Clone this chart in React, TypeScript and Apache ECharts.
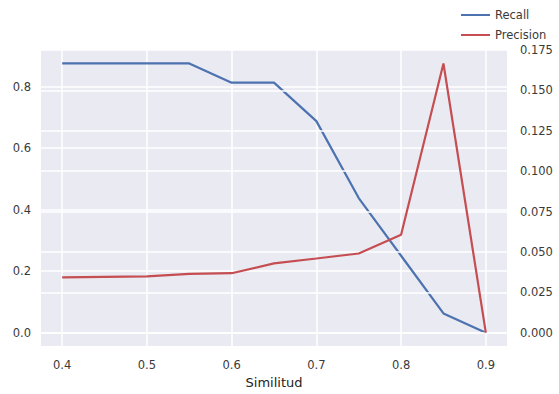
import React, { useEffect, useRef } from "react";
import * as echarts from "echarts";

// Similarity thresholds and the two scores measured at each one
const similitud = [0.4, 0.45, 0.5, 0.55, 0.6, 0.65, 0.7, 0.75, 0.8, 0.85, 0.9];
const recall = [0.875, 0.875, 0.875, 0.875, 0.8125, 0.8125, 0.6875, 0.4375, 0.25, 0.0625, 0];
const precision = [0.0342, 0.0345, 0.0348, 0.0364, 0.0368, 0.0429, 0.0459, 0.049, 0.0606, 0.1667, 0];

// Tick positions for each axis
const xTicks = [0.4, 0.5, 0.6, 0.7, 0.8, 0.9];
const recallTicks = [0, 0.2, 0.4, 0.6, 0.8];
const precisionTicks = [0, 0.025, 0.05, 0.075, 0.1, 0.125, 0.15, 0.175];

const FONT = "DejaVu Sans";
const TEXT = "#3a3a3a";

export default function App() {
  const ref = useRef<HTMLDivElement>(null);

  useEffect(() => {
    if (!ref.current) return;
    const chart = echarts.init(ref.current, undefined, { renderer: "svg" });

    const recallMax = Math.max(...recall);
    const precMax = Math.max(...precision);

    const labelStyle = { color: TEXT, fontFamily: FONT, fontSize: 11.5 };
    const split = { show: true, lineStyle: { color: "#ffffff", width: 1.5 } };

    chart.setOption({
      animation: false,
      textStyle: { fontFamily: FONT },
      grid: {
        left: 41,
        top: 50,
        width: 466,
        height: 303,
        show: true,
        backgroundColor: "#EAEAF2",
        borderWidth: 0,
      },
      legend: {
        orient: "vertical",
        left: 456,
        top: 3,
        padding: 5,
        itemWidth: 29,
        itemHeight: 2,
        itemGap: 6,
        itemTextGap: 12,
        textStyle: { color: TEXT, fontFamily: FONT, fontSize: 11.5, lineHeight: 14 },
        data: [
          { name: "Recall", icon: "rect", itemStyle: { color: "#4C72B0" } },
          { name: "Precision", icon: "rect", itemStyle: { color: "#C44E52" } },
        ],
        itemStyle: { borderWidth: 0 },
      },
      xAxis: {
        type: "value",
        min: 0.375,
        max: 0.925,
        z: 0,
        name: "Similitud",
        nameLocation: "middle",
        nameGap: 29,
        nameTextStyle: { color: "#222", fontFamily: FONT, fontSize: 13 },
        axisLine: { show: false },
        axisTick: { show: false, customValues: xTicks },
        axisLabel: {
          ...labelStyle,
          margin: 13,
          customValues: xTicks,
          formatter: (v: number) => v.toFixed(1),
        },
        splitLine: split,
      },
      yAxis: [
        {
          type: "value",
          position: "left",
          min: -recallMax * 0.05,
          max: recallMax * 1.05,
          z: 0,
          axisLine: { show: false },
          axisTick: { show: false, customValues: recallTicks },
          axisLabel: {
            ...labelStyle,
            margin: 10,
            customValues: recallTicks,
            formatter: (v: number) => v.toFixed(1),
          },
          splitLine: split,
        },
        {
          type: "value",
          position: "right",
          min: -precMax * 0.05,
          max: precMax * 1.05,
          z: 2,
          axisLine: { show: false },
          axisTick: { show: false, customValues: precisionTicks },
          axisLabel: {
            ...labelStyle,
            margin: 13,
            customValues: precisionTicks,
            formatter: (v: number) => v.toFixed(3),
          },
          splitLine: split,
        },
      ],
      series: [
        {
          name: "Recall",
          type: "line",
          yAxisIndex: 0,
          z: 1,
          symbol: "none",
          data: similitud.map((s, i) => [s, recall[i]]),
          lineStyle: { color: "#4C72B0", width: 2.2 },
          itemStyle: { color: "#4C72B0" },
        },
        {
          name: "Precision",
          type: "line",
          yAxisIndex: 1,
          z: 3,
          symbol: "none",
          data: similitud.map((s, i) => [s, precision[i]]),
          lineStyle: { color: "#C44E52", width: 2.2 },
          itemStyle: { color: "#C44E52" },
        },
      ],
    });

    return () => chart.dispose();
  }, []);

  return (
    <div
      ref={ref}
      style={{ width: 559, height: 394, position: "absolute", left: 0, top: 0 }}
    />
  );
}
